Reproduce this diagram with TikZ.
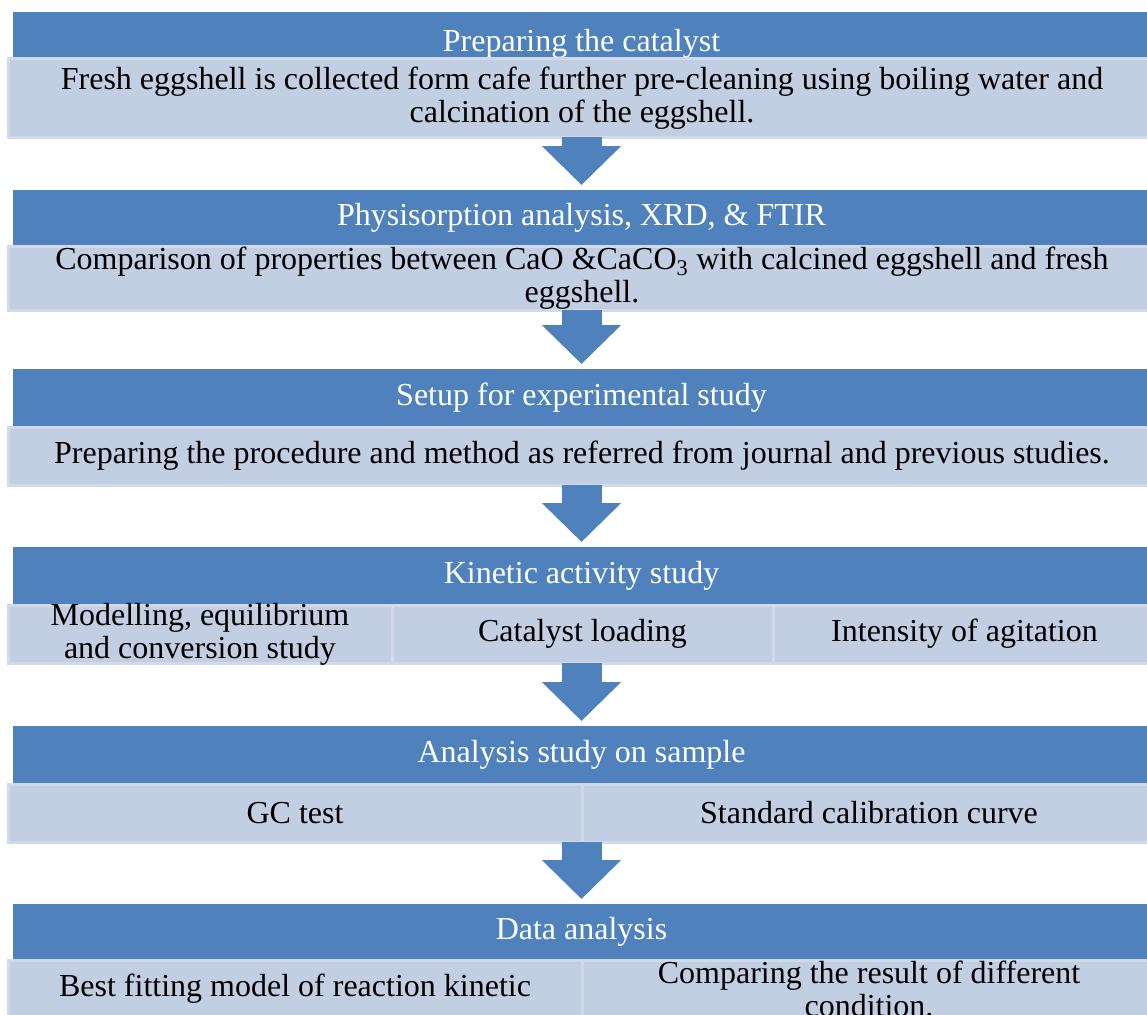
\documentclass[tikz,border=0pt]{standalone}
\usepackage{fontspec}
\setmainfont{Liberation Serif}
\usetikzlibrary{arrows.meta,calc}
\definecolor{hdrblue}{RGB}{79,129,189}
\definecolor{boxblue}{RGB}{194,206,226}
\definecolor{boxedge}{RGB}{210,218,234}

\begin{document}
\begin{tikzpicture}[x=1pt,y=-1pt,
  hdr/.style={fill=hdrblue,text=white,anchor=north west,inner sep=0pt,outer sep=0pt,
    minimum width=1137pt,font=\fontsize{32}{33}\selectfont},
  body/.style={fill=boxblue,draw=boxedge,line width=3pt,anchor=north west,inner sep=0pt,
    outer sep=0pt,align=center,font=\fontsize{32}{33}\selectfont},
  flow/.style={draw=hdrblue,line width=40pt,-{Triangle[width=77pt,length=39pt,color=hdrblue]}}]
\useasboundingbox (0,0) rectangle (1147,1014);

% headers
\node[hdr,minimum height=64pt] (hdr1) at (13,12) {Preparing the catalyst};
\node[hdr,minimum height=56pt] (hdr2) at (13,190) {Physisorption analysis, XRD, \& FTIR};
\node[hdr,minimum height=58pt] (hdr3) at (13,369) {Setup for experimental study};
\node[hdr,minimum height=58pt] (hdr4) at (13,547) {Kinetic activity study};
\node[hdr,minimum height=58pt] (hdr5) at (13,726) {Analysis study on sample};
\node[hdr,minimum height=56pt] (hdr6) at (13,904) {Data analysis};

% content boxes
\node[body,minimum width=1148pt,minimum height=78pt] (body1) at (8,59)
  {Fresh eggshell is collected form cafe further pre-cleaning using boiling water and\\calcination of the eggshell.};
\node[body,inner ysep=-4pt,minimum width=1148pt,minimum height=64pt] (body2) at (8,246)
  {Comparison of properties between CaO \&CaCO\textsubscript{3} with calcined eggshell and fresh\\eggshell.};
\node[body,minimum width=1148pt,minimum height=58pt] (body3) at (8,427)
  {Preparing the procedure and method as referred from journal and previous studies.};
\node[body,inner ysep=-4pt,minimum width=384pt,minimum height=58pt] (body4a) at (8,605) {Modelling, equilibrium\\and conversion study};
\node[body,minimum width=381pt,minimum height=58pt] (body4b) at (392,605) {Catalyst loading};
\node[body,minimum width=383pt,minimum height=58pt] (body4c) at (773,605) {Intensity of agitation};
\node[body,minimum width=574pt,minimum height=58pt] (body5a) at (8,784) {GC test};
\node[body,minimum width=574pt,minimum height=58pt] (body5b) at (582,784) {Standard calibration curve};
\node[body,minimum width=574pt,minimum height=58pt] (body6a) at (8,960) {Best fitting model of reaction kinetic};
\node[body,inner ysep=-4pt,minimum width=574pt,minimum height=58pt] (body6b) at (582,960) {Comparing the result of different\\condition.};

% arrows
\draw[flow] (hdr1.center |- body1.south) -- ($(hdr2.north)+(0,-5)$);
\draw[flow] (hdr2.center |- body2.south) -- ($(hdr3.north)+(0,-5)$);
\draw[flow] (hdr3.center |- body3.south) -- ($(hdr4.north)+(0,-5)$);
\draw[flow] (hdr4.center |- body4b.south) -- ($(hdr5.north)+(0,-5)$);
\draw[flow] (hdr5.center |- body5a.south) -- ($(hdr6.north)+(0,-5)$);
\end{tikzpicture}
\end{document}
